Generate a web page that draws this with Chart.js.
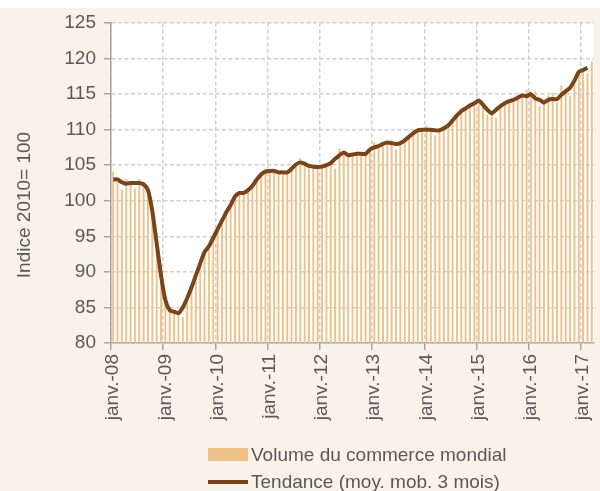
<!DOCTYPE html>
<html>
<head>
<meta charset="utf-8">
<script src="https://cdn.jsdelivr.net/npm/chart.js@4/dist/chart.umd.min.js"></script>
<style>
  body { margin: 0; background: #ffffff; }
  #wrap { position: relative; width: 600px; height: 491px; }
  #legend { position: absolute; left: 208px; top: 441px; font-family: "Liberation Sans", Arial, sans-serif; font-size: 19px; color: #595959; }
  .row { display: flex; align-items: center; height: 27px; }
  .box { width: 40px; height: 13px; margin-right: 3px; }
  .ln { width: 40px; height: 4px; margin-right: 3px; }
</style>
</head>
<body>
<div id="wrap">
  <canvas id="myChart" width="600" height="491"></canvas>
  <div id="legend"></div>
</div>
<script>
//DATA
//-----------------------------------------

//month names and years used for the category labels
const mois = ['janv.', 'févr.', 'mars', 'avr.', 'mai', 'juin', 'juil.', 'août', 'sept.', 'oct.', 'nov.', 'déc.']
const annees = ['08', '09', '10', '11', '12', '13', '14', '15', '16', '17']

//Volume du commerce mondial (indice 2010 = 100), janv. 2008 -> mars 2017
const volume = [
  104.1, 103.0, 101.6, 103.1, 102.7, 101.7, 103.1, 102.6, 100.9, 99.2, 95.5, 91.0,
  86.5, 84.5, 84.3, 84.4, 83.7, 86.0, 87.8, 89.3, 91.5, 93.0, 93.5, 95.0,
  95.8, 97.5, 98.2, 99.6, 100.4, 101.3, 100.8, 101.4, 102.3, 102.8, 104.0, 104.5,
  104.0, 104.3, 103.8, 104.2, 103.9, 104.8, 105.3, 106.0, 104.8, 105.0, 104.6, 104.9,
  104.7, 105.1, 105.4, 104.5, 107.4, 106.4, 106.6, 106.5, 106.9, 106.4, 106.5, 107.2,
  108.3, 107.6, 108.2, 108.0, 108.6, 107.2, 108.3, 108.8, 109.2, 109.6, 110.0, 110.0,
  110.6, 110.1, 109.2, 110.2, 110.4, 110.9, 111.5, 112.2, 113.05, 113.1, 113.3, 113.9,
  114.0, 113.6, 112.1, 112.4, 111.65, 113.2, 113.9, 114.0, 114.3, 114.5, 114.6, 115.6,
  114.9, 115.4, 113.3, 114.2, 114.8, 115.2, 113.8, 116.2, 115.4, 114.7, 117.0, 118.0,
  118.2, 117.9, 119.6
]

//Tendance (moyenne mobile 3 mois), ends in févr. 2017
const tendance = [
  103.0, 103.0, 102.6, 102.4, 102.5, 102.5, 102.5, 102.3, 101.5, 98.5, 94.0, 89.5,
  86.0, 84.6, 84.4, 84.2, 85.0, 86.3, 87.8, 89.5, 91.2, 92.8, 93.6, 94.8,
  96.0, 97.2, 98.4, 99.4, 100.6, 101.1, 101.1, 101.5, 102.1, 103.0, 103.7, 104.1,
  104.2, 104.2, 104.0, 104.0, 104.0, 104.5, 105.1, 105.4, 105.2, 104.9, 104.8, 104.75,
  104.8, 105.0, 105.3, 105.9, 106.4, 106.8, 106.4, 106.5, 106.6, 106.6, 106.6, 107.2,
  107.5, 107.7, 108.0, 108.2, 108.1, 108.0, 108.1, 108.5, 109.0, 109.5, 109.9, 110.0,
  110.0, 110.0, 109.9, 109.9, 110.2, 110.6, 111.3, 112.0, 112.6, 113.0, 113.4, 113.7,
  114.1, 113.5, 112.8, 112.3, 112.8, 113.3, 113.7, 114.0, 114.2, 114.5, 114.8, 114.7,
  115.0, 114.4, 114.2, 113.8, 114.2, 114.3, 114.3, 114.9, 115.4, 115.9, 116.9, 118.1,
  118.4, 118.7, null
]

//y axis range and title
const yMin = 80
const yMax = 125
const yStep = 5
const yTitle = 'Indice 2010= 100'

//building the category labels, stops at mars 2017
let labels = []
for (let a = 0; a < annees.length; a++) {
  for (let m = 0; m < 12; m++) {
    if (labels.length < volume.length) {
      labels.push(mois[m] + '-' + annees[a])
    }
  }
}

//COLOURS
const barColor = '#efc28b'
const lineColor = '#79441a'
const textColor = '#595959'
const gridColor = '#d0d0d0'
const axisColor = '#a6a6a6'
const creamColor = '#f9f2e8'

//cream panel behind the chart, white plot area
const backgroundPlugin = {
  id: 'background',
  beforeDraw(chart) {
    const c = chart.ctx
    const a = chart.chartArea
    c.save()
    c.fillStyle = '#ffffff'
    c.fillRect(0, 0, chart.width, chart.height)
    c.fillStyle = creamColor
    c.fillRect(0, 8, chart.width, chart.height - 8)
    c.fillStyle = '#ffffff'
    c.fillRect(a.left, a.top, a.right - a.left, a.bottom - a.top)
    c.restore()
  },
  //y title sits a bit lower than the middle of the axis, so it is drawn here
  afterDraw(chart) {
    const c = chart.ctx
    c.save()
    c.translate(25, 205)
    c.rotate(-Math.PI / 2)
    c.font = '19px "Liberation Sans", Arial, sans-serif'
    c.fillStyle = textColor
    c.textAlign = 'center'
    c.textBaseline = 'middle'
    c.fillText(yTitle, 0, 0)
    c.restore()
  }
}

Chart.defaults.font.family = '"Liberation Sans", Arial, sans-serif'
Chart.defaults.font.size = 19
Chart.defaults.color = textColor

//Chart
var ctx = document.getElementById('myChart').getContext('2d');
var mychart = new Chart(ctx, {
  type: 'bar',
  data: {
    labels: labels,
    datasets: [{
      type: 'line',
      label: 'Tendance (moy. mob. 3 mois)',
      data: tendance,
      borderColor: lineColor,
      backgroundColor: lineColor,
      borderWidth: 4,
      pointRadius: 0,
      tension: 0.2,
      order: 0
    }, {
      type: 'bar',
      label: 'Volume du commerce mondial',
      data: volume,
      backgroundColor: barColor,
      barPercentage: 0.45,
      categoryPercentage: 1,
      order: 1
    }]
  },
  options: {
    responsive: false,
    animation: false,
    layout: { padding: { top: 23, right: 6, bottom: 58, left: 0 } },
    plugins: {
      legend: { display: false },
      tooltip: { enabled: false }
    },
    scales: {
      x: {
        offset: true,
        grid: {
          offset: true,
          lineWidth: 1.5,
          color: (c) => (c.index % 12 === 0 ? gridColor : 'rgba(0,0,0,0)'),
          tickColor: (c) => (c.index % 12 === 0 ? axisColor : 'rgba(0,0,0,0)'),
          tickLength: 7,
          tickBorderDash: []
        },
        border: { display: true, color: axisColor, width: 1.5, dash: [4, 2.5] },
        ticks: {
          autoSkip: false,
          minRotation: 90,
          maxRotation: 90,
          padding: 4,
          callback: function (value, index) {
            return index % 12 === 0 ? this.getLabelForValue(value) : ''
          }
        },
        afterFit: (scale) => {
          scale.height = 90
          scale.paddingLeft = 0
          scale.paddingRight = 0
        }
      },
      y: {
        min: yMin,
        max: yMax,
        ticks: { stepSize: yStep, padding: 8 },
        grid: {
          color: gridColor,
          lineWidth: 1.5,
          tickColor: axisColor,
          tickLength: 7,
          tickBorderDash: []
        },
        border: { display: true, color: axisColor, width: 1.5, dash: [4, 2.5] },
        afterFit: (scale) => {
          scale.width = 111
        }
      }
    }
  },
  plugins: [backgroundPlugin]
});

//HTML legend built from the datasets, bars first
let legendDiv = document.getElementById('legend')
let bars = mychart.data.datasets[1]
let trend = mychart.data.datasets[0]
legendDiv.innerHTML =
  '<div class="row"><span class="box" style="background:' + bars.backgroundColor + '"></span>' + bars.label + '</div>' +
  '<div class="row"><span class="ln" style="background:' + trend.borderColor + '"></span>' + trend.label + '</div>'
</script>
</body>
</html>
